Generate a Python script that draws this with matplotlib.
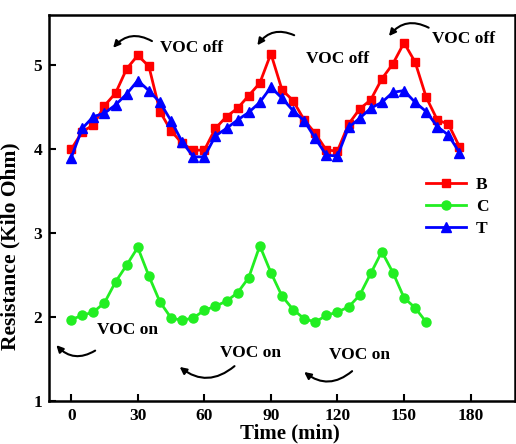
import matplotlib
matplotlib.use("Agg")
import matplotlib.pyplot as plt
import numpy as np

plt.rcParams['font.family'] = ['Liberation Serif', 'DejaVu Serif']
plt.rcParams['font.weight'] = 'bold'

# Time axis (min)
time_bt = np.arange(0, 180, 5)
time_c = np.arange(0, 165, 5)

# Resistance (Kilo Ohm)
res_b = [4.00, 4.21, 4.29, 4.52, 4.67, 4.96, 5.12, 4.99, 4.45, 4.22, 4.07, 3.99,
         3.99, 4.25, 4.39, 4.49, 4.64, 4.79, 5.14, 4.71, 4.58, 4.35, 4.19, 3.99,
         3.98, 4.30, 4.48, 4.59, 4.84, 5.02, 5.27, 5.04, 4.62, 4.35, 4.30, 4.03]
res_c = [1.97, 2.02, 2.06, 2.17, 2.42, 2.62, 2.83, 2.49, 2.18, 1.99, 1.96, 1.99,
         2.08, 2.13, 2.19, 2.29, 2.47, 2.85, 2.53, 2.25, 2.09, 1.98, 1.94, 2.02,
         2.06, 2.12, 2.26, 2.52, 2.78, 2.53, 2.23, 2.11, 1.94]
res_t = [3.90, 4.25, 4.39, 4.43, 4.53, 4.66, 4.82, 4.70, 4.56, 4.34, 4.09, 3.91,
         3.91, 4.16, 4.25, 4.35, 4.44, 4.56, 4.74, 4.61, 4.46, 4.34, 4.13, 3.93,
         3.92, 4.26, 4.37, 4.49, 4.56, 4.68, 4.70, 4.56, 4.45, 4.27, 4.17, 3.96]

x_ticks = [0, 30, 60, 90, 120, 150, 180]
y_ticks = [1, 2, 3, 4, 5]

fig = plt.figure(figsize=(5.16, 4.44), dpi=100)
ax = fig.add_axes([0.095, 0.097, 0.903, 0.869])

ax.plot(time_bt, res_b, color='#ff0000', lw=2, marker='s', ms=6, label='B')
ax.plot(time_c, res_c, color='#22ee22', lw=2, marker='o', ms=6.5, label='C')
ax.plot(time_bt, res_t, color='#0000ff', lw=2, marker='^', ms=7.5, label='T')

ax.set_xlim(-10, 200)
ax.set_ylim(1, 5.6)
ax.set_xticks(x_ticks)
ax.set_yticks(y_ticks)
ax.tick_params(direction='in', length=5, width=1.5, labelsize=12.5, pad=5)
for lbl in ax.get_xticklabels() + ax.get_yticklabels():
    lbl.set_fontweight('bold')
for sp in ax.spines.values():
    sp.set_linewidth(1.8)

ax.set_xlabel('Time (min)', fontsize=15, fontweight='bold')
ax.xaxis.set_label_coords(0.517, -0.059)
ax.set_ylabel('Resistance (Kilo Ohm)', fontsize=15.5, fontweight='bold')
ax.yaxis.set_label_coords(-0.062, 0.40)

leg = ax.legend(loc='upper left', bbox_to_anchor=(0.775, 0.622), frameon=False,
                prop={'weight': 'bold', 'size': 12.5}, handlelength=2.3,
                labelspacing=0.35, handletextpad=0.6)

# VOC off / on annotations with curved arrows
off_text = [(40, 5.21), (106, 5.08), (162.5, 5.31)]
off_arrows = [((36.4, 5.29), (18.9, 5.21)),
              ((100.5, 5.36), (83.9, 5.24)),
              ((161.1, 5.45), (143.2, 5.35))]
on_text = [(11.7, 1.845), (66.9, 1.57), (116.2, 1.55)]
on_arrows = [((10.8, 1.60), (-6.7, 1.665)),
             ((73.6, 1.415), (48.9, 1.405)),
             ((126.6, 1.355), (105.0, 1.345))]

for (tx, ty) in off_text:
    ax.text(tx, ty, 'VOC off', fontsize=12.5, fontweight='bold', va='center', ha='left')
for (tx, ty) in on_text:
    ax.text(tx, ty, 'VOC on', fontsize=12.5, fontweight='bold', va='center', ha='left')
for start, end in off_arrows:
    ax.annotate('', xy=end, xytext=start,
                arrowprops=dict(arrowstyle='-|>', color='black', lw=1.5,
                                mutation_scale=10,
                                connectionstyle='arc3,rad=0.4',
                                shrinkA=0, shrinkB=0))
for start, end in on_arrows:
    ax.annotate('', xy=end, xytext=start,
                arrowprops=dict(arrowstyle='-|>', color='black', lw=1.5,
                                mutation_scale=10,
                                connectionstyle='arc3,rad=-0.4',
                                shrinkA=0, shrinkB=0))

fig.savefig('out.png', dpi=100)
